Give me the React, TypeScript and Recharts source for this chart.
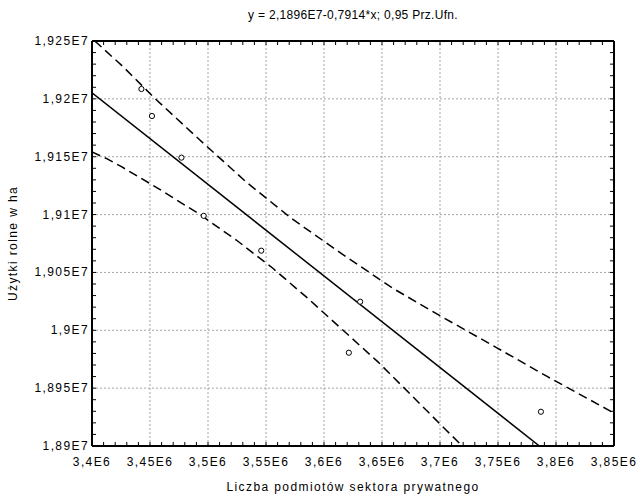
import React from 'react';
import { ScatterChart, Scatter, XAxis, YAxis, ReferenceLine } from 'recharts';

const W = 639;
const H = 497;
const MARGIN = { top: 41, right: 25, left: 0, bottom: 0 };
const Y_AXIS_W = 92;
const X_AXIS_H = 51;
const PLOT_LEFT = MARGIN.left + Y_AXIS_W;
const PLOT_RIGHT = W - MARGIN.right;
const PLOT_TOP = MARGIN.top;
const PLOT_BOTTOM = H - MARGIN.bottom - X_AXIS_H;

const FONT = '"Liberation Sans", Arial, sans-serif';
const TICK_LEN = 4;

const pointX = [3.4426e6, 3.4517e6, 3.4771e6, 3.4963e6, 3.5459e6, 3.6312e6, 3.6214e6, 3.787e6];
const pointY = [1.92085e7, 1.91852e7, 1.91492e7, 1.90989e7, 1.90688e7, 1.90247e7, 1.89806e7, 1.89296e7];

// fitted line y = 2,1896E7 - 0,7914*x, from left edge to where it leaves the frame
const fitX = [3.4e6, 3.7857e6];
const fitY = [1.92052e7, 1.89e7];

// 0,95 confidence band
const upperX = [3.4024e6, 3.4268e6, 3.4541e6, 3.493e6, 3.533e6, 3.5718e6, 3.6148e6, 3.6593e6, 3.7038e6, 3.7483e6, 3.7927e6, 3.85e6];
const upperY = [1.925e7, 1.92278e7, 1.92005e7, 1.91644e7, 1.91281e7, 1.90968e7, 1.90665e7, 1.90363e7, 1.90104e7, 1.89853e7, 1.89599e7, 1.89285e7];
const lowerX = [3.4e6, 3.4127e6, 3.4254e6, 3.4569e6, 3.4914e6, 3.5244e6, 3.5559e6, 3.5861e6, 3.6162e6, 3.6463e6, 3.6751e6, 3.7052e6, 3.7193e6];
const lowerY = [1.91541e7, 1.91483e7, 1.91414e7, 1.91227e7, 1.91011e7, 1.9078e7, 1.90536e7, 1.90276e7, 1.90002e7, 1.89729e7, 1.89441e7, 1.89138e7, 1.89e7];

const xTicks = [3.4e6, 3.45e6, 3.5e6, 3.55e6, 3.6e6, 3.65e6, 3.7e6, 3.75e6, 3.8e6, 3.85e6];
const xTickLabels = ['3,4E6', '3,45E6', '3,5E6', '3,55E6', '3,6E6', '3,65E6', '3,7E6', '3,75E6', '3,8E6', '3,85E6'];
const yTicks = [1.89e7, 1.895e7, 1.9e7, 1.905e7, 1.91e7, 1.915e7, 1.92e7, 1.925e7];
const yTickLabels = ['1,89E7', '1,895E7', '1,9E7', '1,905E7', '1,91E7', '1,915E7', '1,92E7', '1,925E7'];

const withMinor = (major: number[]) => {
  const out: number[] = [];
  major.forEach((v, i) => {
    out.push(v);
    if (i < major.length - 1) {
      const step = (major[i + 1] - v) / 5;
      for (let k = 1; k < 5; k++) out.push(v + step * k);
    }
  });
  return out;
};

const zip = (xs: number[], ys: number[]) => xs.map((x, i) => ({ x, y: ys[i] }));

const textStyle = { fontFamily: FONT, fontSize: 12, letterSpacing: 1.4, fill: '#000' };

const XTick = (props: any) => {
  const { x, payload } = props;
  const i = xTicks.findIndex((t) => Math.abs(t - payload.value) < 1);
  return (
    <g>
      <line x1={x} x2={x} y1={PLOT_BOTTOM} y2={PLOT_BOTTOM - TICK_LEN} stroke="#000" />
      <line x1={x} x2={x} y1={PLOT_TOP} y2={PLOT_TOP + TICK_LEN} stroke="#000" />
      {i >= 0 && (
        <text x={x} y={PLOT_BOTTOM + 16} textAnchor="middle" dominantBaseline="central" style={textStyle}>
          {xTickLabels[i]}
        </text>
      )}
    </g>
  );
};

const YTick = (props: any) => {
  const { y, payload } = props;
  const i = yTicks.findIndex((t) => Math.abs(t - payload.value) < 1);
  return (
    <g>
      <line x1={PLOT_LEFT} x2={PLOT_LEFT + TICK_LEN} y1={y} y2={y} stroke="#000" />
      <line x1={PLOT_RIGHT} x2={PLOT_RIGHT - TICK_LEN} y1={y} y2={y} stroke="#000" />
      {i >= 0 && (
        <text x={PLOT_LEFT - 3} y={y} textAnchor="end" dominantBaseline="central" style={textStyle}>
          {yTickLabels[i]}
        </text>
      )}
    </g>
  );
};

const Ring = (p: any) => <circle cx={p.cx} cy={p.cy} r={2.6} fill="#fff" stroke="#000" strokeWidth={1} />;
const NoMark = () => <g />;

const XLabel = (p: any) => {
  const vb = p.viewBox;
  return (
    <text x={vb.x + vb.width / 2} y={vb.y + vb.height - 10} textAnchor="middle" dominantBaseline="central" style={textStyle}>
      Liczba podmiotów sektora prywatnego
    </text>
  );
};

const YLabel = (p: any) => {
  const vb = p.viewBox;
  const cx = 13;
  const cy = vb.y + vb.height / 2;
  return (
    <text x={cx} y={cy} transform={`rotate(-90 ${cx} ${cy})`} textAnchor="middle" dominantBaseline="central" style={textStyle}>
      Użytki rolne w ha
    </text>
  );
};

export default function App() {
  const dash = '9 5';
  const grid = { stroke: '#a4a4a4', strokeWidth: 1, strokeDasharray: '2 2' };
  return (
    <div style={{ position: 'fixed', left: 0, top: 0, width: W, height: H, background: '#fff' }}>
      <div
        style={{
          position: 'absolute',
          top: 8,
          left: PLOT_LEFT,
          width: PLOT_RIGHT - PLOT_LEFT,
          textAlign: 'center',
          fontFamily: FONT,
          fontSize: 12,
          lineHeight: '14px',
          letterSpacing: 0.3,
        }}
      >
        y = 2,1896E7-0,7914*x; 0,95 Prz.Ufn.
      </div>
      <ScatterChart width={W} height={H} margin={MARGIN}>
        <XAxis
          dataKey="x"
          type="number"
          domain={[3.4e6, 3.85e6]}
          allowDataOverflow
          ticks={withMinor(xTicks)}
          interval={0}
          tick={<XTick />}
          tickLine={false}
          tickSize={0}
          height={X_AXIS_H}
          axisLine={{ stroke: '#000', strokeWidth: 2 }}
          label={{ content: <XLabel /> }}
        />
        <YAxis
          dataKey="y"
          type="number"
          domain={[1.89e7, 1.925e7]}
          allowDataOverflow
          ticks={withMinor(yTicks)}
          interval={0}
          tick={<YTick />}
          tickLine={false}
          tickSize={0}
          width={Y_AXIS_W}
          axisLine={{ stroke: '#000', strokeWidth: 2 }}
          label={{ content: <YLabel /> }}
        />
        {xTicks.slice(1, -1).map((v) => (
          <ReferenceLine key={`gx${v}`} x={v} {...grid} />
        ))}
        {yTicks.slice(1, -1).map((v) => (
          <ReferenceLine key={`gy${v}`} y={v} {...grid} />
        ))}
        <ReferenceLine y={1.925e7} stroke="#000" strokeWidth={2} />
        <ReferenceLine x={3.85e6} stroke="#000" strokeWidth={2} />
        <Scatter
          data={zip(upperX, upperY)}
          shape={NoMark}
          line={{ stroke: '#000', strokeWidth: 1.5, strokeDasharray: dash }}
          lineType="joint"
          isAnimationActive={false}
        />
        <Scatter
          data={zip(lowerX, lowerY)}
          shape={NoMark}
          line={{ stroke: '#000', strokeWidth: 1.5, strokeDasharray: dash }}
          lineType="joint"
          isAnimationActive={false}
        />
        <Scatter
          data={zip(fitX, fitY)}
          shape={NoMark}
          line={{ stroke: '#000', strokeWidth: 1.5 }}
          lineType="joint"
          isAnimationActive={false}
        />
        <Scatter data={zip(pointX, pointY)} shape={Ring} isAnimationActive={false} />
      </ScatterChart>
    </div>
  );
}
